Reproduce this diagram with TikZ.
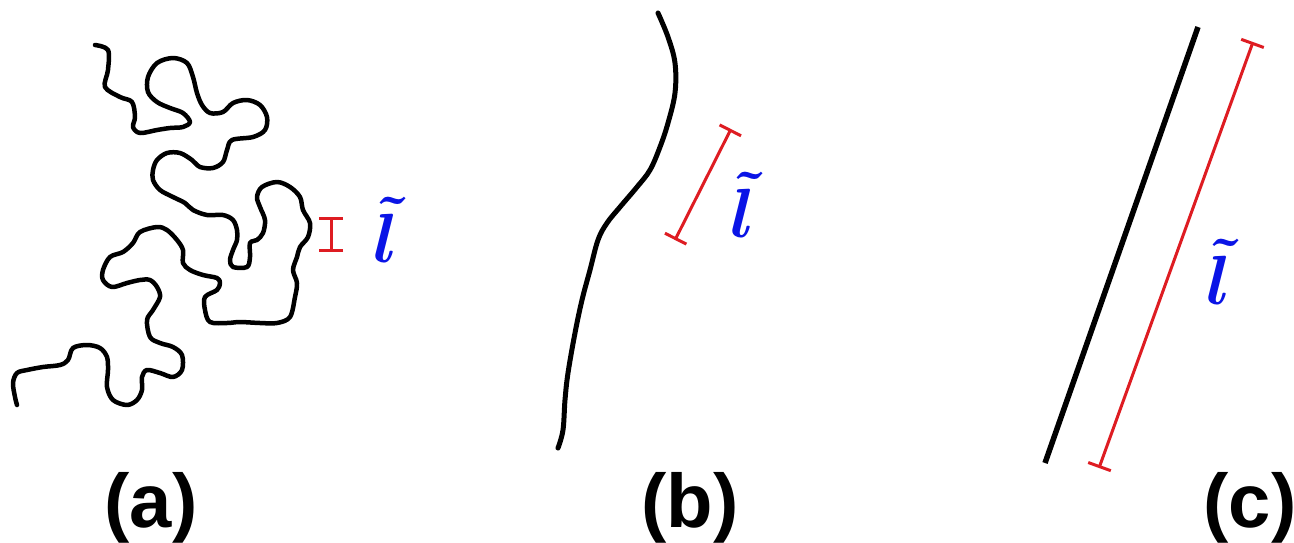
\documentclass[tikz,border=0pt]{standalone}
\usepackage{amsmath}
\usepackage{graphicx}
\usepackage{fontspec}
\usepackage{tikz}
\usetikzlibrary{arrows.meta, positioning, calc}
\newfontfamily\labelfont{Liberation Sans}
\definecolor{barred}  {RGB}{222, 28, 34}
\definecolor{tilblue} {RGB}{10, 20, 230}
\newcommand{\tilell}{\scalebox{2.8}{\boldmath$\tilde{l}$}}

\begin{document}
\begin{tikzpicture}[x=1pt,y=-1pt,
	chain/.style={line width=4.5pt, line join=round, line cap=round},
	barline/.style={barred, line width=3pt, {Bar[width=24pt,line width=3pt]}-{Bar[width=24pt,line width=3pt]}},
	tillabel/.style={tilblue, inner sep=0pt, font=\Huge},
	caplabel/.style={inner sep=0pt, anchor=base, font=\labelfont\bfseries\fontsize{76}{78}\selectfont}
]
	\useasboundingbox (0,0) rectangle (1294,542);
	% (a) crumpled chain
	\draw[chain] plot[smooth, tension=0.55] coordinates {
		(95,45) (108,50) (108,70) (105,87) (120,97) (132,102) (135,117) (133,127) (140,133)
		(157,130) (170,128) (183,127) (190,122) (183,113) (170,108) (157,102) (148,92)
		(148,77) (157,63) (173,58) (187,63) (193,77) (197,93) (202,105) (210,113)
		(223,112) (233,103) (247,100) (260,105) (267,117) (265,130) (253,137) (232,140)
		(227,150) (223,162) (213,168) (200,167) (192,160) (180,153) (167,153) (157,160)
		(153,170) (153,180) (160,190) (173,197) (185,203) (193,210) (207,215) (223,215)
		(233,220) (237,230) (237,240) (233,250) (230,260) (233,267) (247,267) (250,257)
		(250,243) (257,240) (263,233) (265,220) (260,207) (257,197) (262,187) (277,182)
		(290,187) (300,197) (303,210) (310,223) (308,237) (300,247) (297,257) (293,270)
		(297,283) (295,297) (290,317) (277,323) (260,323) (240,322) (227,323) (210,322)
		(205,310) (205,297) (217,290) (220,283) (217,278) (203,275) (190,270) (183,263)
		(183,250) (177,240) (167,230) (157,227) (140,232) (133,243) (123,252) (110,257)
		(103,270) (103,280) (112,287) (127,283) (140,280) (150,280) (157,287) (160,297)
		(153,310) (147,320) (150,337) (160,343) (173,347) (182,355) (182,370) (173,377)
		(160,373) (147,370) (142,377) (142,390) (137,400) (127,405) (113,400) (107,387)
		(108,370) (107,357) (100,348) (87,345) (73,348) (68,360) (60,365) (43,367)
		(27,370) (17,373) (13,383) (15,397) (17,405)};
	\coordinate (atop) at (331,217);
	\coordinate (abot) at (331,252);
	\draw[barline] (atop) -- (abot);
	\node[tillabel] (tila) at (386,230) {\tilell};
	\node[caplabel] (lbla) at (151,527) {(a)};
	% (b) smooth bend
	\draw[chain, line width=5pt] plot[smooth, tension=0.6] coordinates {
		(658,13) (668,37) (675,63) (675,93) (668,123) (660,147) (650,170) (637,187)
		(620,207) (607,223) (598,240) (590,270) (582,300) (575,333) (568,373)
		(565,400) (563,430) (558,448)};
	\coordinate (btop) at (731,129);
	\coordinate (bbot) at (675,240);
	\draw[barline] (btop) -- (bbot);
	\node[tillabel] (tilb) at (743,205) {\tilell};
	\node[caplabel] (lblb) at (690,527) {(b)};
	% (c) straight rod
	\coordinate (ctop) at (1198,27);
	\coordinate (cbot) at (1045,463);
	\draw[chain, line width=5.5pt, line cap=butt] (ctop) -- (cbot);
	\coordinate (rtop) at (1253,42);
	\coordinate (rbot) at (1099,468);
	\draw[barline] (rtop) -- (rbot);
	\node[tillabel] (tilc) at (1219,272) {\tilell};
	\node[caplabel] (lblc) at (1250,527) {(c)};
\end{tikzpicture}
\end{document}
